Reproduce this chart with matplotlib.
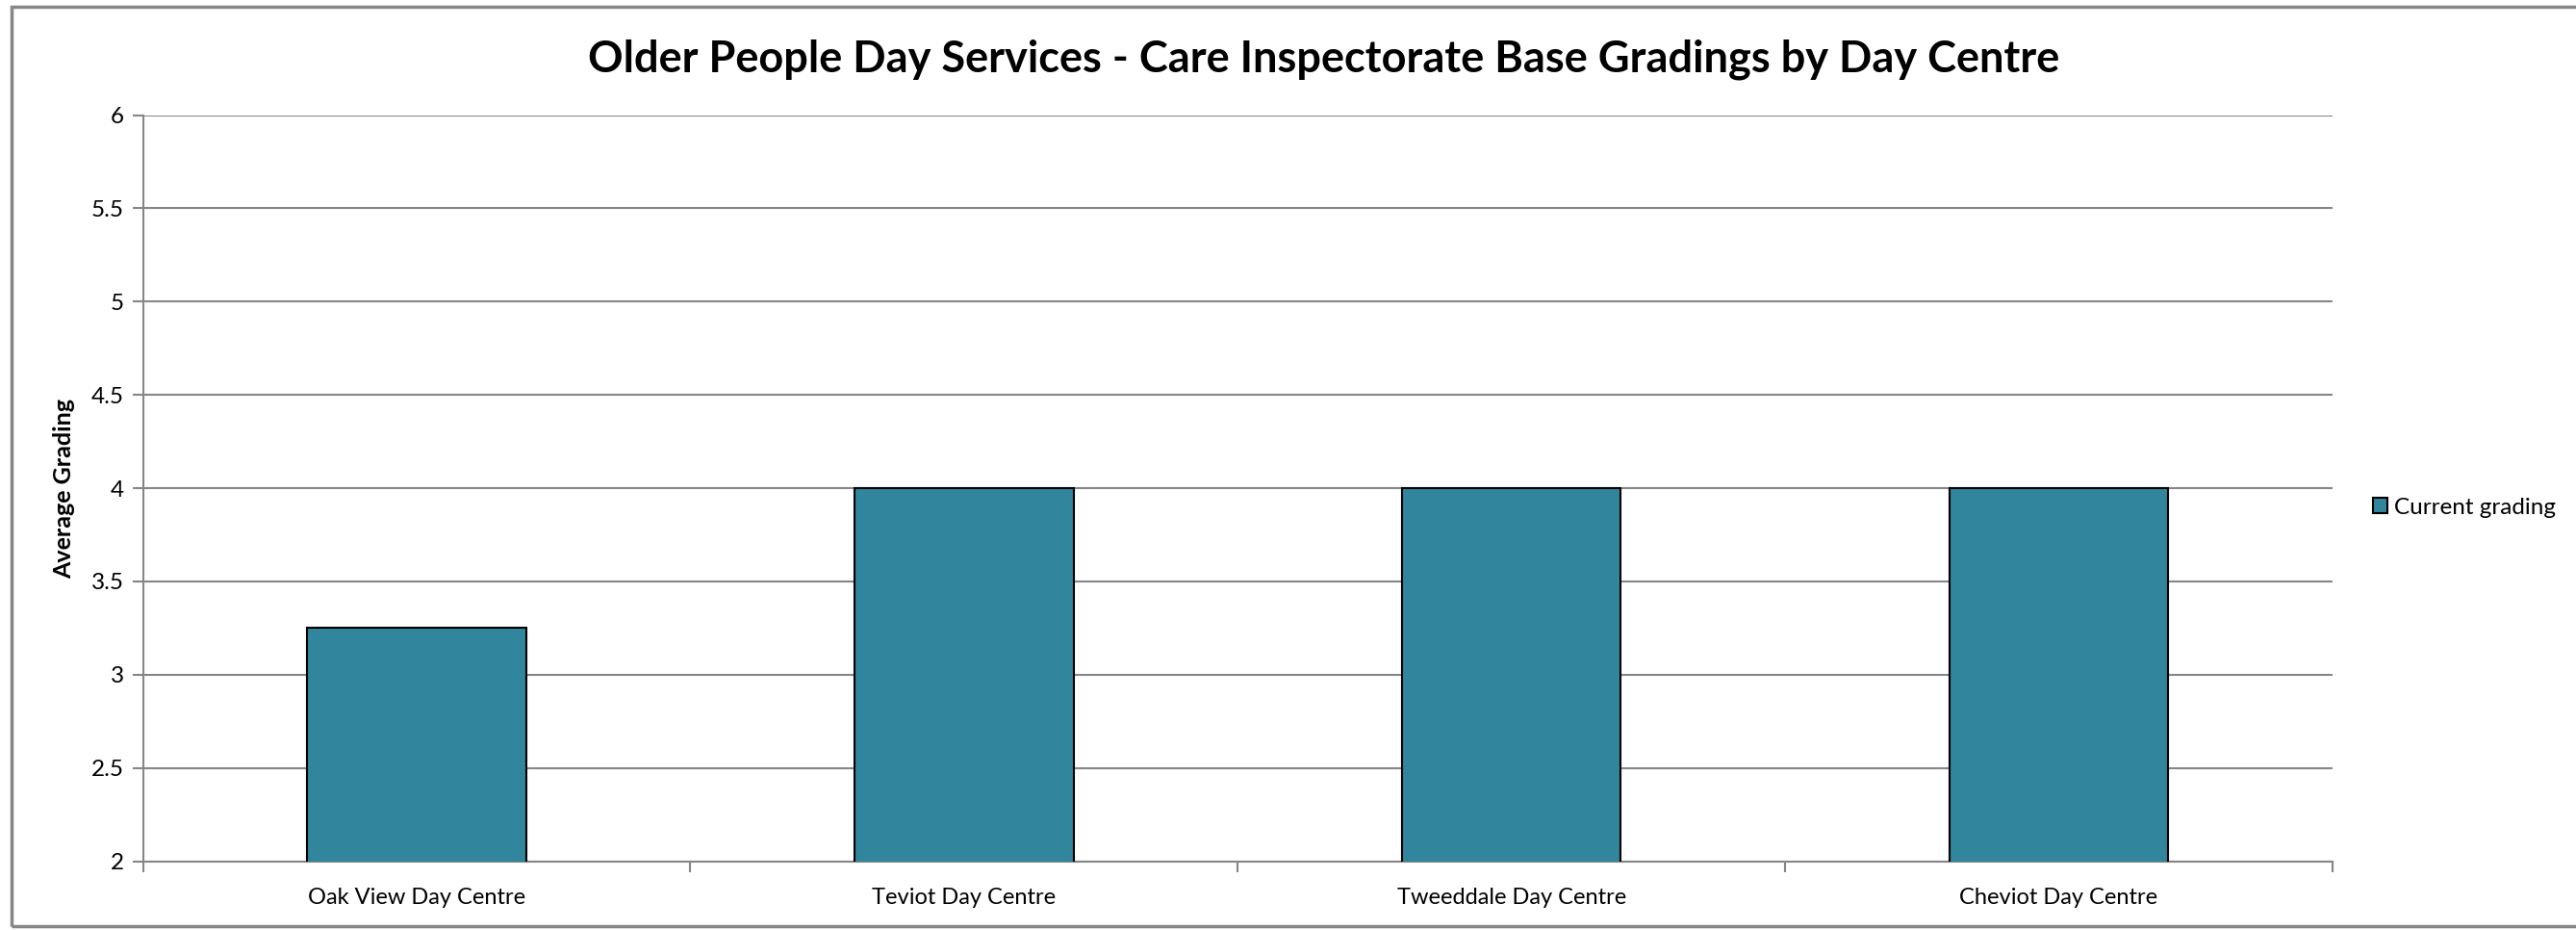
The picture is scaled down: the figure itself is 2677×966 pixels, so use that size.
import matplotlib.pyplot as plt
from matplotlib.patches import Rectangle
import numpy as np

# Data
centres = ["Oak View Day Centre", "Teviot Day Centre", "Tweeddale Day Centre", "Cheviot Day Centre"]
grading = [3.25, 4, 4, 4]
y_ticks = [2, 2.5, 3, 3.5, 4, 4.5, 5, 5.5, 6]
y_tick_labels = ["2", "2.5", "3", "3.5", "4", "4.5", "5", "5.5", "6"]

plt.rcParams['font.family'] = ['Lato', 'DejaVu Sans']

W, H = 2677, 966
fig = plt.figure(figsize=(W / 100, H / 100), dpi=100)
ax = fig.add_axes([148.5 / W, 1 - 894.6 / H, (2424 - 148.5) / W, (894.6 - 119.5) / H])

grid_col = "#868686"
bar_col = "#31859C"

x = np.arange(len(centres))
ax.bar(x, grading, width=0.4, color=bar_col, edgecolor="black", linewidth=1.5,
       label="Current grading", zorder=3)

ax.set_xlim(-0.5, len(centres) - 0.5)
ax.set_ylim(2, 6)
ax.set_yticks(y_ticks)
ax.set_yticklabels(y_tick_labels, fontsize=17.5)
ax.yaxis.grid(True, color=grid_col, linewidth=1.5, zorder=0)

# category labels at centres, tick marks at boundaries
ax.set_xticks(x)
ax.set_xticklabels(centres, fontsize=17)
ax.tick_params(axis='x', length=0, pad=20)
ax.set_xticks(np.arange(-0.5, len(centres)), minor=True)
ax.tick_params(axis='x', which='minor', length=8, color=grid_col, width=1.5)
ax.tick_params(axis='y', length=8, color=grid_col, width=1.5, pad=6)

for side in ['top', 'right']:
    ax.spines[side].set_visible(False)
for side in ['left', 'bottom']:
    ax.spines[side].set_color(grid_col)
    ax.spines[side].set_linewidth(1.5)

ax.set_ylabel("Average Grading", fontsize=18, fontweight='bold', labelpad=12)

fig.suptitle("Older People Day Services - Care Inspectorate Base Gradings by Day Centre",
             x=1376 / W, y=1 - 62 / H, va='center', fontsize=32.5, fontweight='bold')

ax.legend(loc='center left', bbox_to_anchor=(2466 / W, 1 - 527 / H), bbox_transform=fig.transFigure,
          frameon=False, fontsize=17.5, handlelength=0.6, handleheight=0.6, handletextpad=0.3,
          borderpad=0, borderaxespad=0)

# outer chart border (right edge runs off the image)
fig.patches.append(Rectangle((12 / W, 1 - 962 / H), (2690 - 12) / W, (962 - 7) / H,
                             transform=fig.transFigure, fill=False, edgecolor=grid_col, linewidth=2.5))

fig.savefig("out.png", dpi=100)
